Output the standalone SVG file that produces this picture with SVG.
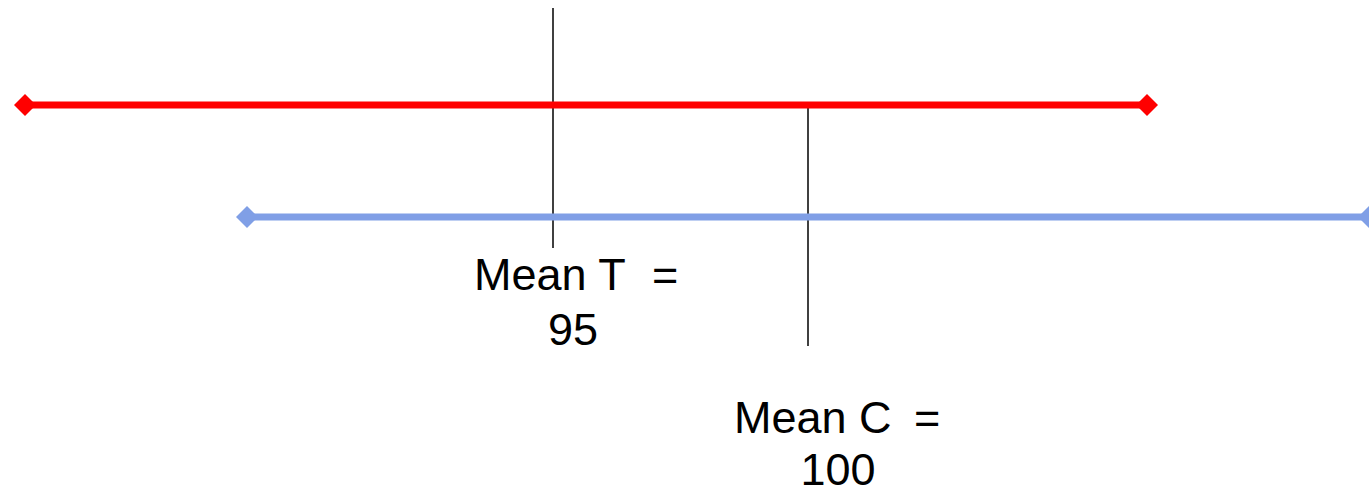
<svg xmlns="http://www.w3.org/2000/svg" width="1369" height="494" viewBox="0 0 1369 494">
<style>
.lbl{font-family:"Liberation Sans",Arial,sans-serif;font-size:45px;fill:#000}
.red{stroke:#ff0000;stroke-width:7;fill:none}
.blue{stroke:#809fe6;stroke-width:7;fill:none}
.tick{stroke:#000;stroke-width:1.5;fill:none}
</style>
<rect width="1369" height="494" fill="#fff"/>
<g id="connectors">
<line class="tick" x1="553" y1="8" x2="553" y2="248"/>
<line class="tick" x1="808" y1="108" x2="808" y2="346"/>
</g>
<g id="interval-T">
<line class="red" x1="25" y1="105" x2="1147" y2="105"/>
<polygon points="14,105 25,94 36,105 25,116" fill="#ff0000"/>
<polygon points="1136,105 1147,94 1158,105 1147,116" fill="#ff0000"/>
</g>
<g id="interval-C">
<line class="blue" x1="247" y1="217" x2="1369" y2="217"/>
<polygon points="236,217 247,206 258,217 247,228" fill="#809fe6"/>
<polygon points="1358,217 1369,206 1380,217 1369,228" fill="#809fe6"/>
</g>
<g id="label-T">
<text class="lbl" y="290"><tspan x="474">Mean T</tspan><tspan x="652">=</tspan></text>
<text class="lbl" x="573" y="345" text-anchor="middle">95</text>
</g>
<g id="label-C">
<text class="lbl" y="433"><tspan x="734">Mean C</tspan><tspan x="914">=</tspan></text>
<text class="lbl" x="838" y="485" text-anchor="middle">100</text>
</g>
</svg>
